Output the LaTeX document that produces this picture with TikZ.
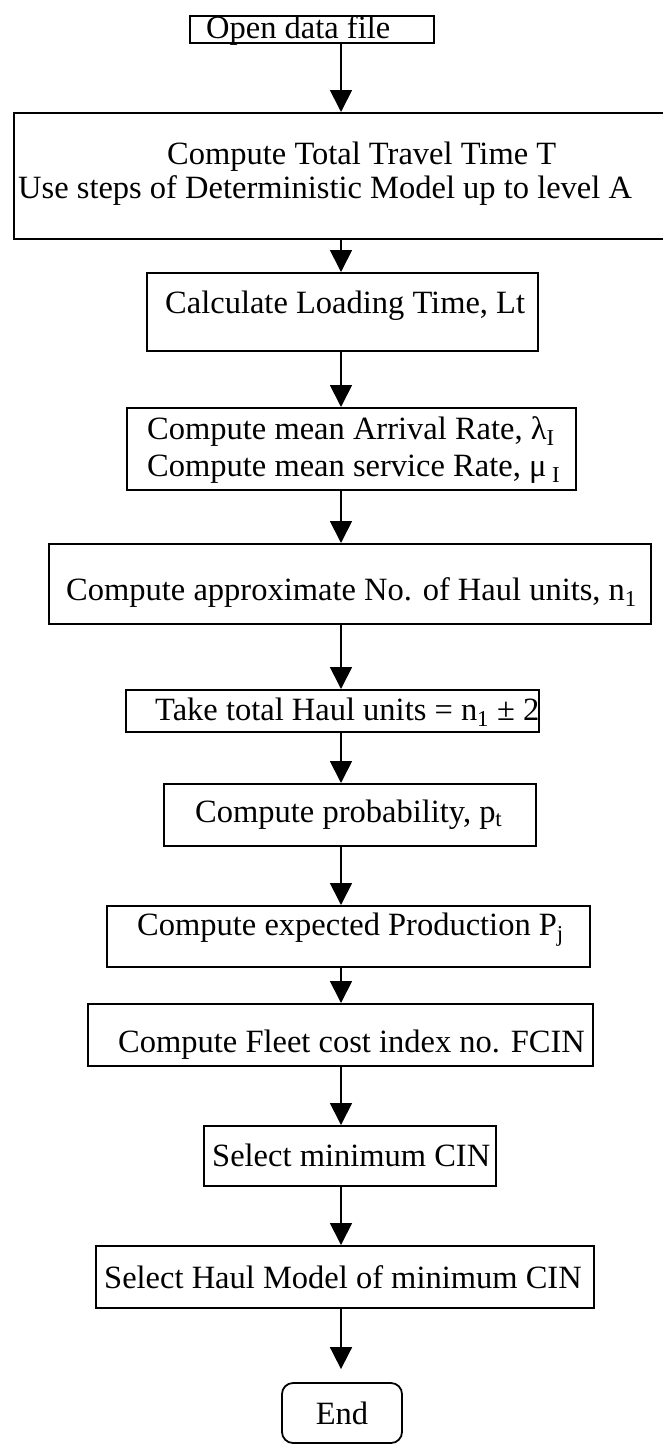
\documentclass[tikz,border=0pt]{standalone}
\usepackage{fontspec}
\setmainfont{Liberation Serif}
\usetikzlibrary{arrows.meta}
\begin{document}
\begin{tikzpicture}[x=1pt,y=-1pt,
  box/.style={draw, line width=1.8pt, inner sep=0pt, anchor=north west},
  endbox/.style={draw, line width=1.8pt, inner sep=0pt, rounded corners=11pt,
    minimum width=120pt, minimum height=60pt, font=\fontsize{32.5}{36}\selectfont},
  txt/.style={inner sep=0pt, anchor=base west, font=\fontsize{32.5}{36}\selectfont},
  flow/.style={line width=1.7pt, -{Triangle[width=22pt,length=22pt]}},
]
\useasboundingbox (0,0) rectangle (663,1444);
\coordinate (spine) at (341,0);

% process boxes (top-left corner, width, height) and their captions
\node[box, minimum width=244pt, minimum height=27pt] (b1) at (189,15) {};
\node[txt] (t1) at (206,38) {Open data file};

\node[box, minimum width=656pt, minimum height=126pt] (b2) at (13,112) {};
\node[txt] (t2a) at (167,164) {Compute Total Travel Time T};
\node[txt] (t2b) at (18,198) {Use steps of Deterministic Model up to level A};

\node[box, minimum width=391pt, minimum height=78pt] (b3) at (146,272) {};
\node[txt] (t3) at (165,313) {Calculate Loading Time, Lt};

\node[box, minimum width=449pt, minimum height=82pt] (b4) at (126,407) {};
\node[txt] (t4a) at (147,439) {Compute mean Arrival Rate, λ\textsubscript{I}};
\node[txt] (t4b) at (147,476) {Compute mean service Rate, μ\textsubscript{ I}};

\node[box, minimum width=602pt, minimum height=80pt] (b5) at (48,543) {};
\node[txt] (t5) at (66,600) {Compute approximate No. of Haul units, n\textsubscript{1}};

\node[box, minimum width=413pt, minimum height=42pt] (b6) at (125,689) {};
\node[txt] (t6) at (155,720) {Take total Haul units = n\textsubscript{1} ± 2};

\node[box, minimum width=372pt, minimum height=62pt] (b7) at (163,783) {};
\node[txt] (t7) at (195,822) {Compute probability, p\textsubscript{t}};

\node[box, minimum width=483pt, minimum height=61pt] (b8) at (106,905) {};
\node[txt] (t8) at (137,935) {Compute expected Production P\textsubscript{j}};

\node[box, minimum width=505pt, minimum height=62pt] (b9) at (87,1003) {};
\node[txt] (t9) at (118,1052) {Compute Fleet cost index no. FCIN};

\node[box, minimum width=292pt, minimum height=60pt] (b10) at (203,1125) {};
\node[txt] (t10) at (212,1166) {Select minimum CIN};

\node[box, minimum width=498pt, minimum height=62pt] (b11) at (95,1245) {};
\node[txt] (t11) at (104,1288) {Select Haul Model of minimum CIN};

\node[endbox] (e) at (342,1413) {End};

% flow arrows down the centre line
\draw[flow] (b1.south -| spine) -- (b2.north -| spine);
\draw[flow] (b2.south -| spine) -- (b3.north -| spine);
\draw[flow] (b3.south -| spine) -- (b4.north -| spine);
\draw[flow] (b4.south -| spine) -- (b5.north -| spine);
\draw[flow] (b5.south -| spine) -- (b6.north -| spine);
\draw[flow] (b6.south -| spine) -- (b7.north -| spine);
\draw[flow] (b7.south -| spine) -- (b8.north -| spine);
\draw[flow] (b8.south -| spine) -- (b9.north -| spine);
\draw[flow] (b9.south -| spine) -- (b10.north -| spine);
\draw[flow] (b10.south -| spine) -- (b11.north -| spine);
\draw[flow] (b11.south -| spine) -- ([yshift=13pt]e.north -| spine);
\end{tikzpicture}
\end{document}
